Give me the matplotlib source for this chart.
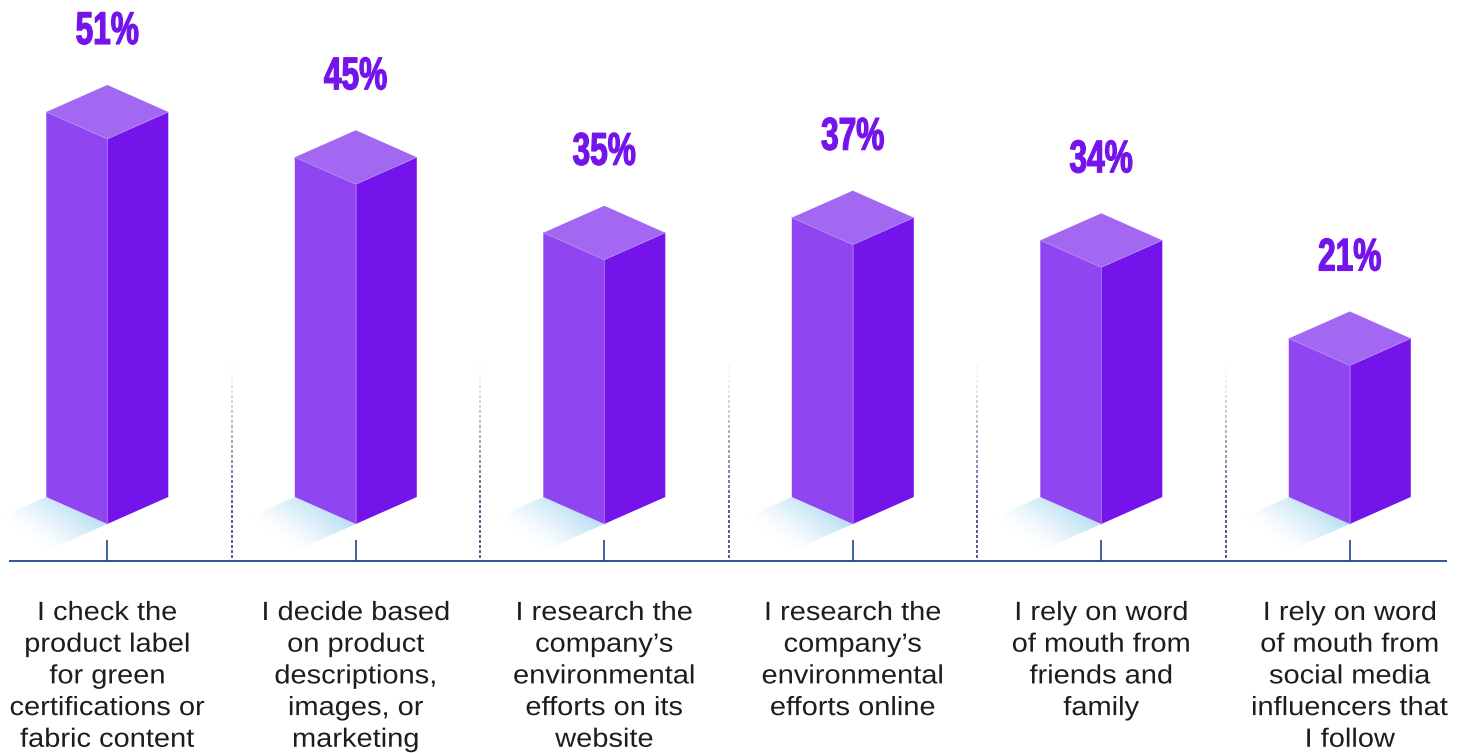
import numpy as np
import matplotlib
matplotlib.use("Agg")
import matplotlib.pyplot as plt
from matplotlib.patches import Polygon
from matplotlib.collections import LineCollection
from matplotlib.colors import LinearSegmentedColormap
from matplotlib.patheffects import AbstractPathEffect
from matplotlib.transforms import Affine2D

categories = [
    "I check the\nproduct label\nfor green\ncertifications or\nfabric content",
    "I decide based\non product\ndescriptions,\nimages, or\nmarketing",
    "I research the\ncompany\u2019s\nenvironmental\nefforts on its\nwebsite",
    "I research the\ncompany\u2019s\nenvironmental\nefforts online",
    "I rely on word\nof mouth from\nfriends and\nfamily",
    "I rely on word\nof mouth from\nsocial media\ninfluencers that\nI follow",
]
values = [51, 45, 35, 37, 34, 21]
value_labels = ["51%", "45%", "35%", "37%", "34%", "21%"]

W, H = 1466, 753
PX_X = 248.5       # pixels per category
PX_Y = 7.55        # pixels per percentage point
X0 = 107.3         # pixel of first category
Y0 = 524.0         # pixel of value 0

fig = plt.figure(figsize=(W / 100, H / 100), dpi=100)
ax = fig.add_axes([0, 0, 1, 1])
ax.set_xlim(-X0 / PX_X, (W - X0) / PX_X)
ax.set_ylim(-(H - Y0) / PX_Y, Y0 / PX_Y)
ax.axis("off")

hw = 61 / PX_X     # half width of the bar
dy = 27 / PX_Y     # isometric rise
FRONT, RIGHT, TOP, EDGE = "#8f45f0", "#7514ea", "#a368f2", "#b48af5"


class SqueezeX(AbstractPathEffect):
    """Scale a text horizontally around its own centre; it stays real text."""
    def __init__(self, sx, lw=0.0):
        super().__init__()
        self.sx = sx
        self.lw = lw

    def draw_path(self, renderer, gc, tpath, affine, rgbFace=None):
        ext = tpath.get_extents(affine)
        cx = 0.5 * (ext.x0 + ext.x1)
        t = affine + Affine2D().translate(-cx, 0).scale(self.sx, 1).translate(cx, 0)
        gc2 = renderer.new_gc()
        gc2.copy_properties(gc)
        gc2.set_linewidth(self.lw)
        gc2.set_foreground(rgbFace)
        renderer.draw_path(gc2, tpath, t, rgbFace)
        gc2.restore()


shadow_cmap = LinearSegmentedColormap.from_list(
    "shadow", [(0.73, 0.87, 0.96, 1.0), (0.78, 0.90, 0.97, 0.5), (0.92, 0.96, 1, 0.0)])

for i, v in enumerate(values):
    # ground shadow
    poly = np.array([(i, 0), (i - hw, dy), (i - 2 * hw, 0), (i - hw, -dy)])
    clip = Polygon(poly, closed=True, transform=ax.transData, fc="none", ec="none")
    ax.add_patch(clip)
    n = 240
    xs = np.linspace(i - 2 * hw, i, n)
    ys = np.linspace(-dy, dy, n)
    XX, YY = np.meshgrid(xs, ys)
    fade = 0.5 * ((i - XX) / hw - YY / dy)
    along = 0.5 * ((i - XX) / hw + YY / dy)
    depth = np.clip(fade * 1.0 + 0.25 * along, 0, 1)
    im = ax.imshow(depth, extent=[xs[0], xs[-1], ys[0], ys[-1]], origin="lower",
                   cmap=shadow_cmap, vmin=0, vmax=1, aspect="auto", zorder=1,
                   interpolation="bilinear")
    im.set_clip_path(clip)

    # bar faces
    ax.add_patch(Polygon([(i - hw, dy), (i, 0), (i, v), (i - hw, v + dy)], closed=True,
                         fc=FRONT, ec="none", zorder=2))
    ax.add_patch(Polygon([(i, 0), (i + hw, dy), (i + hw, v + dy), (i, v)], closed=True,
                         fc=RIGHT, ec="none", zorder=2))
    ax.add_patch(Polygon([(i, v), (i + hw, v + dy), (i, v + 2 * dy), (i - hw, v + dy)],
                         closed=True, fc=TOP, ec="none", zorder=2))
    ax.plot([i - hw, i, i + hw], [v + dy, v, v + dy], color=EDGE, lw=0.5, zorder=3)
    ax.plot([i, i], [v, 0], color=EDGE, lw=0.4, zorder=3)

    # value label
    ax.text(i, v + 2 * dy + 53 / PX_Y, value_labels[i], ha="center", va="center",
            family="Liberation Sans", weight="bold", fontsize=33, color="#7514ea",
            zorder=5, path_effects=[SqueezeX(0.69, 0.9)])

    # category label
    ax.text(i, -(601 - Y0) / PX_Y, categories[i], ha="center", va="top",
            family="Liberation Sans", fontsize=19.0, color="#1c1c22",
            linespacing=1.405, zorder=5, path_effects=[SqueezeX(1.10)])

    # tick
    ax.plot([i, i], [-(540 - Y0) / PX_Y, -(561 - Y0) / PX_Y], color="#1f4788", lw=1.2,
            zorder=3, solid_capstyle="butt")

# baseline
y_base = -(561 - Y0) / PX_Y
ax.plot([(9 - X0) / PX_X, (1447 - X0) / PX_X], [y_base, y_base], color="#1f4788", lw=1.3,
        zorder=3, solid_capstyle="butt")

# fading dashed dividers between categories
for k in range(len(values) - 1):
    x = k + 0.5
    tops = np.arange(365, 558, 5.0)
    segs = [[(x, -(t - Y0) / PX_Y), (x, -(t + 3 - Y0) / PX_Y)] for t in tops]
    alphas = np.clip((tops - 365) / 140, 0.04, 1)
    cols = [(0.12, 0.2, 0.45, a) for a in alphas]
    ax.add_collection(LineCollection(segs, colors=cols, linewidths=1.1, zorder=2,
                                     capstyle="butt"))

ax.set_xlim(-X0 / PX_X, (W - X0) / PX_X)
ax.set_ylim(-(H - Y0) / PX_Y, Y0 / PX_Y)
fig.savefig("out.png", dpi=100, facecolor="white")
